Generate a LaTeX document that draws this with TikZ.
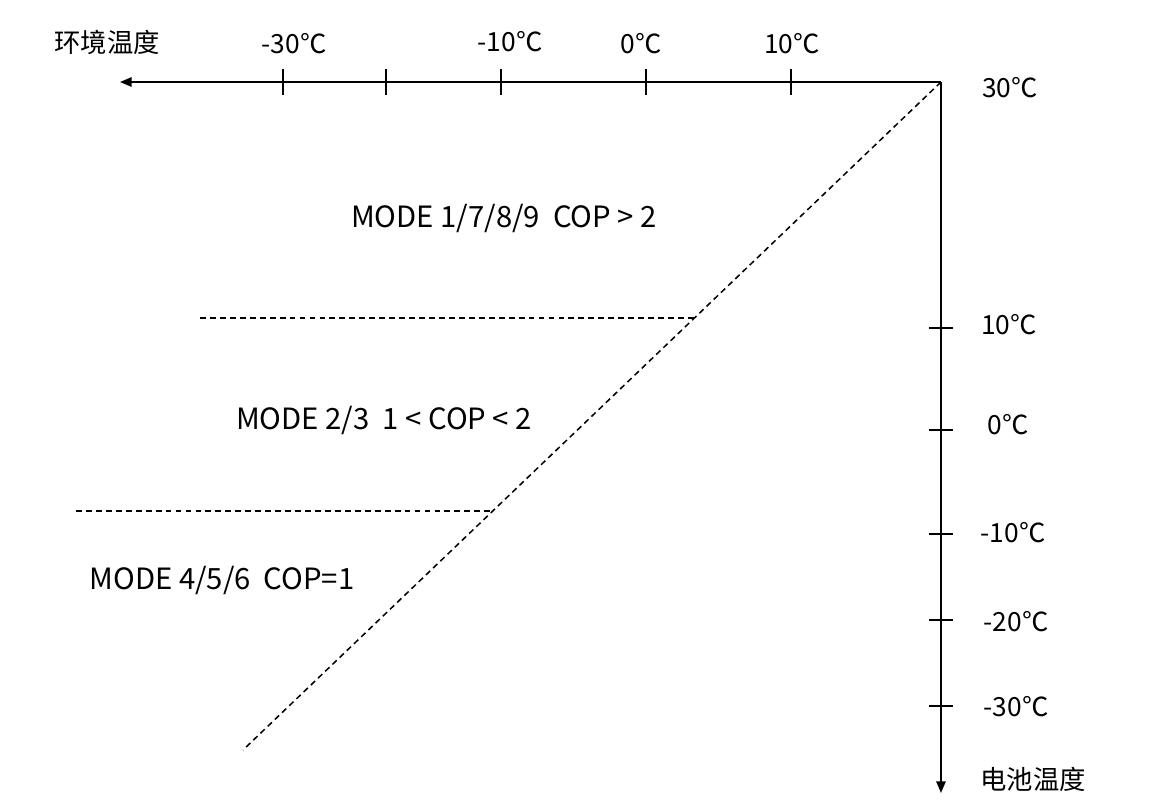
\documentclass[tikz,border=0pt]{standalone}
\usepackage{fontspec}
\setmainfont{Noto Sans CJK SC}
\usetikzlibrary{positioning,arrows.meta}

\begin{document}
\begin{tikzpicture}
[x=0.03cm,y=-0.03cm,
 every node/.style={inner sep=0mm,outer sep=0mm,font=\fontsize{22.5}{26}\selectfont},
 axis/.style={line width=1.6pt,-{Triangle[length=10pt,width=8pt]}},
 tk/.style={line width=1.6pt},
 sep/.style={line width=1.3pt,dash pattern=on 5pt off 3.5pt},
 mode/.style={font=\fontsize{25}{29}\selectfont}]
\useasboundingbox (0,0) rectangle (1154,810);

\coordinate (O)    at (941,82);
\coordinate (xend) at (120,82);
\coordinate (yend) at (941,793);
\draw[axis] (O) -- (xend);
\draw[axis] (O) -- (yend);

% ticks on the ambient axis
\coordinate (tA30) at (283,82);
\coordinate (tA20) at (386,82);
\coordinate (tA10) at (501,82);
\coordinate (tA0)  at (646,82);
\coordinate (tAp)  at (791,82);
\draw[tk] (tA30) ++(0,-13) -- ++(0,26);
\draw[tk] (tA20) ++(0,-13) -- ++(0,26);
\draw[tk] (tA10) ++(0,-13) -- ++(0,26);
\draw[tk] (tA0)  ++(0,-13) -- ++(0,26);
\draw[tk] (tAp)  ++(0,-13) -- ++(0,26);

% ticks on the battery axis
\coordinate (tBp)  at (941,328);
\coordinate (tB0)  at (941,430);
\coordinate (tB10) at (941,534);
\coordinate (tB20) at (941,620);
\coordinate (tB30) at (941,706);
\draw[tk] (tBp)  ++(-12,0) -- ++(24,0);
\draw[tk] (tB0)  ++(-12,0) -- ++(24,0);
\draw[tk] (tB10) ++(-12,0) -- ++(24,0);
\draw[tk] (tB20) ++(-12,0) -- ++(24,0);
\draw[tk] (tB30) ++(-12,0) -- ++(24,0);

\node (lamb)  at (107,42)  {环境温度};
\node (lA30)  at (294,44)  {-30℃};
\node (lA10)  at (510,42)  {-10℃};
\node (lA0)   at (641,44)  {0℃};
\node (lAp)   at (792,44)  {10℃};

\node (lB30p) at (1010,88)  {30℃};
\node (lBp)   at (1009,325) {10℃};
\node (lB0)   at (1008,425) {0℃};
\node (lB10)  at (1013,533) {-10℃};
\node (lB20)  at (1016,622) {-20℃};
\node (lB30)  at (1016,707) {-30℃};
\node (lbat)  at (1033,779) {电池温度};

% region borders
\coordinate (dEnd) at (243,750);
\coordinate (hA)   at (200,318);
\coordinate (hAe)  at (696,318);
\coordinate (hB)   at (76,511);
\coordinate (hBe)  at (492,511);
\draw[sep] (O)  -- (dEnd);
\draw[sep] (hA) -- (hAe);
\draw[sep] (hB) -- (hBe);

\node[mode] (m1) at (504,218) {MODE 1/7/8/9\ \ COP > 2};
\node[mode] (m2) at (384,420) {MODE 2/3\ \ 1 < COP < 2};
\node[mode] (m3) at (222,580) {MODE 4/5/6\ \ COP=1};
\end{tikzpicture}
\end{document}
